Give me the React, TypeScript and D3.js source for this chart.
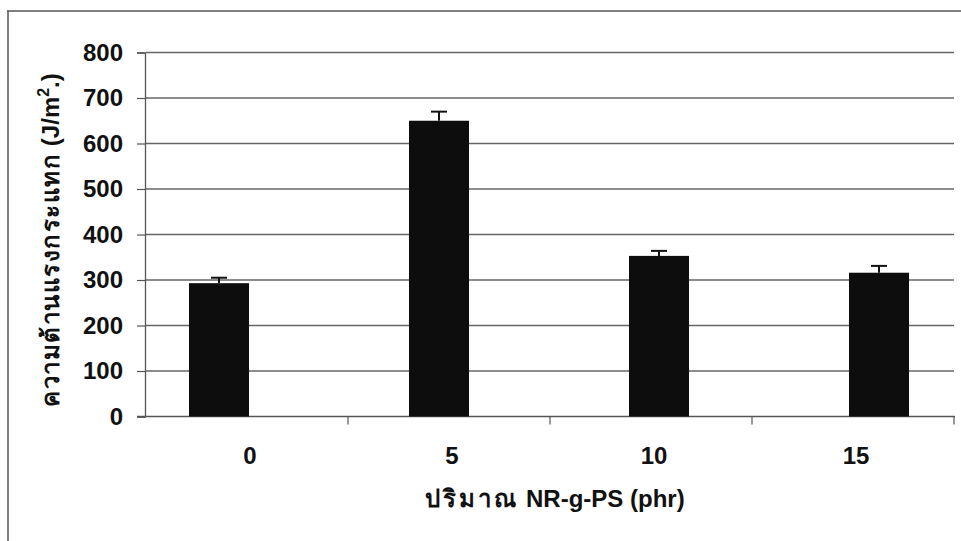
import React, { useEffect, useRef } from "react";
import * as d3 from "d3";

// Impact strength vs. NR-g-PS content
const categories = ["0", "5", "10", "15"];
const impactValues = [293, 650, 353, 316];
const errorValues = [12, 20, 11, 15];
const yTicks = [0, 100, 200, 300, 400, 500, 600, 700, 800];

const W = 961;
const H = 541;
const FONT = "'Liberation Sans', Arial, 'Noto Sans', sans-serif";
const FS = 24;

export default function App() {
  const ref = useRef<SVGSVGElement | null>(null);

  useEffect(() => {
    const svg = d3.select(ref.current);
    svg.selectAll("*").remove();

    const plotLeft = 146;
    const plotRight = 954;
    const plotTop = 52.5;
    const plotBottom = 416.5;

    const y = d3.scaleLinear().domain([0, 800]).range([plotBottom, plotTop]);
    const x = d3.scaleBand<string>().domain(categories).range([plotLeft, plotRight]);
    const barX = d3.scalePoint<string>().domain(categories).range([219, 879]);
    const barW = 60;

    // outer frame
    svg.append("line").attr("x1", 7).attr("x2", W).attr("y1", 11).attr("y2", 11)
      .attr("stroke", "#555").attr("stroke-width", 1.5);
    svg.append("line").attr("x1", 8).attr("x2", 8).attr("y1", 11).attr("y2", H)
      .attr("stroke", "#555").attr("stroke-width", 1.5);

    // horizontal gridlines
    svg.append("g").selectAll("line").data(yTicks.filter((t) => t > 0)).join("line")
      .attr("x1", plotLeft).attr("x2", plotRight)
      .attr("y1", (d) => y(d)).attr("y2", (d) => y(d))
      .attr("stroke", "#666").attr("stroke-width", 1.3);

    // y axis
    const yAxis = d3.axisLeft(y).tickValues(yTicks).tickSize(8).tickPadding(14)
      .tickFormat((d) => String(d));
    const gy = svg.append("g").attr("transform", `translate(${plotLeft - 1},0)`).call(yAxis);
    gy.select(".domain").attr("stroke", "#555").attr("stroke-width", 1.3);
    gy.selectAll(".tick line").attr("stroke", "#555").attr("stroke-width", 1.2);
    gy.selectAll(".tick text")
      .attr("font-family", FONT).attr("font-size", FS).attr("font-weight", "bold")
      .attr("fill", "#111");

    // x axis with tick marks on category boundaries
    const gx = svg.append("g").attr("transform", `translate(0,${plotBottom})`);
    gx.append("line").attr("x1", plotLeft - 9).attr("x2", plotRight + 1)
      .attr("y1", 0).attr("y2", 0).attr("stroke", "#555").attr("stroke-width", 1.4);
    const boundaries = categories.map((c) => (x(c) as number) + x.bandwidth());
    gx.selectAll("line.tk").data(boundaries).join("line").attr("class", "tk")
      .attr("x1", (d) => d).attr("x2", (d) => d).attr("y1", 0).attr("y2", 8)
      .attr("stroke", "#555").attr("stroke-width", 1.2);
    gx.selectAll("text").data(categories).join("text")
      .attr("x", (d) => (x(d) as number) + x.bandwidth() / 2 + 3)
      .attr("y", 47)
      .attr("text-anchor", "middle")
      .attr("font-family", FONT).attr("font-size", FS).attr("font-weight", "bold")
      .attr("fill", "#111")
      .text((d) => d);

    // bars
    svg.append("g").selectAll("rect").data(categories).join("rect")
      .attr("x", (d) => (barX(d) as number) - barW / 2)
      .attr("width", barW)
      .attr("y", (_, i) => y(impactValues[i]))
      .attr("height", (_, i) => plotBottom - y(impactValues[i]))
      .attr("fill", "#0d0d0d");

    // error bars
    const eg = svg.append("g").attr("stroke", "#111").attr("stroke-width", 2);
    categories.forEach((c, i) => {
      const cx = barX(c) as number;
      const top = y(impactValues[i] + errorValues[i]);
      eg.append("line").attr("x1", cx).attr("x2", cx)
        .attr("y1", y(impactValues[i])).attr("y2", top);
      eg.append("line").attr("x1", cx - 8).attr("x2", cx + 8).attr("y1", top).attr("y2", top);
    });

    // axis titles
    const xt = svg.append("text")
      .attr("x", 555).attr("y", 507)
      .attr("text-anchor", "middle")
      .attr("font-family", FONT).attr("font-size", FS).attr("font-weight", "bold")
      .attr("fill", "#111");
    xt.append("tspan").attr("letter-spacing", 3).text("ปริมาณ");
    xt.append("tspan").text(" NR-g-PS (phr)");

    const yt = svg.append("text")
      .attr("transform", `translate(59,240) rotate(-90)`)
      .attr("text-anchor", "middle")
      .attr("font-family", FONT).attr("font-size", FS).attr("font-weight", "bold")
      .attr("fill", "#111");
    yt.append("tspan").attr("letter-spacing", 1.5).text("ความต้านแรงกระแทก");
    yt.append("tspan").text(" (J/m");
    yt.append("tspan").attr("font-size", 16).attr("dy", -10).text("2");
    yt.append("tspan").attr("dy", 10).text(".)");
  }, []);

  return (
    <svg
      ref={ref}
      width={W}
      height={H}
      style={{ position: "absolute", left: 0, top: 0, background: "#fff" }}
    />
  );
}
